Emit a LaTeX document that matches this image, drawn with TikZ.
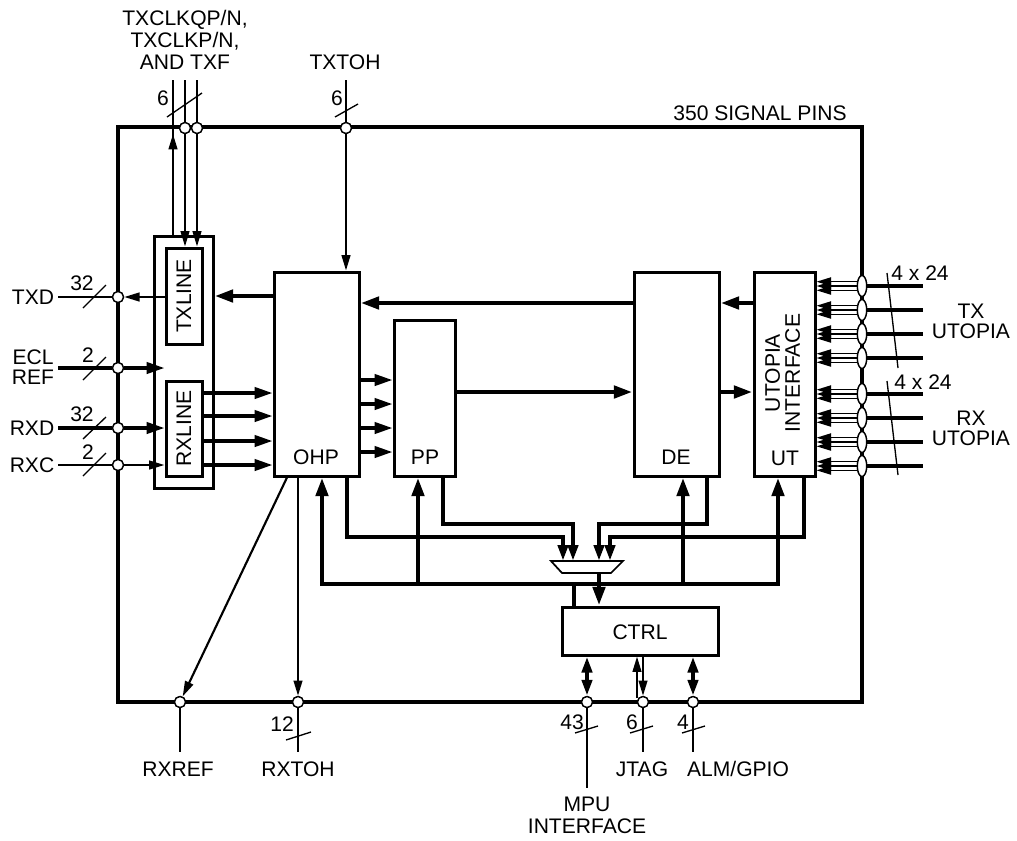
\documentclass[tikz,border=0pt]{standalone}
\usepackage{fontspec}
\setmainfont{Liberation Sans}
\usetikzlibrary{arrows.meta,shapes.geometric}
\begin{document}
\begin{tikzpicture}[x=0.75pt,y=-0.75pt,
  every node/.style={font=\fontsize{15.8}{15}\selectfont, inner sep=0pt},
  box/.style={draw, line width=2.25pt, inner sep=0pt},
  pinc/.style={circle, draw, fill=white, line width=1pt, inner sep=0pt, minimum size=8.25pt},
  upin/.style={ellipse, draw, fill=white, line width=1pt, inner sep=0pt, minimum width=7pt, minimum height=15.75pt},
  busln/.style={line width=3.4pt},
  medln/.style={line width=2.5pt},
  thinln/.style={line width=1.6pt},
  hairln/.style={line width=1pt},
  Bt/.tip={Triangle[length=14pt,width=9pt]},
  Dt/.tip={Triangle[length=12pt,width=7.5pt]},
  Mt/.tip={Triangle[length=13.5pt,width=8.5pt]},
  St/.tip={Triangle[length=11.5pt,width=6.5pt]},
  Ut/.tip={Triangle[length=11pt,width=6.5pt]},
]
\useasboundingbox (0,0) rectangle (1017,840);

% chip outline
\node[draw, line width=3pt, inner sep=0pt, minimum width=558pt, minimum height=431.25pt] (chip) at (490,414.5) {};
\node (pins) at (760,113) {350 SIGNAL PINS};

% blocks
\node[box, minimum width=44.25pt, minimum height=189pt] (txrx) at (183.5,362) {};
\node[box, minimum width=27pt, minimum height=72pt] (txline) at (184,296) {};
\node[box, minimum width=27pt, minimum height=71.25pt] (rxline) at (184,428.5) {};
\node[rotate=90] (txlt) at (184,296) {TXLINE};
\node[rotate=90] (rxlt) at (184,428.5) {RXLINE};
\node[box, minimum width=63.75pt, minimum height=153pt] (ohp) at (316.5,374) {};
\node[box, minimum width=45.75pt, minimum height=117pt] (pp) at (424.5,398) {};
\node[box, minimum width=63.75pt, minimum height=153pt] (de) at (676.5,374) {};
\node[box, minimum width=45.75pt, minimum height=153pt] (ut) at (784.5,374) {};
\node[box, minimum width=117pt, minimum height=36pt] (ctrl) at (640,631) {};
\node (ohpt) at (316,457) {OHP};
\node (ppt) at (425,457) {PP};
\node (det) at (676,457) {DE};
\node (utt) at (785,458) {UT};
\node[rotate=90, align=center] (uit) at (782.5,373) {UTOPIA\\INTERFACE};
\node (ctrlt) at (640,632) {CTRL};

% top pins
\coordinate (tca) at (173,80);
\coordinate (tcb) at (185,80);
\coordinate (tcc) at (197,80);
\coordinate (ttoh) at (346,80);
\node[pinc] (ptca) at (185,128) {};
\node[pinc] (ptcb) at (197,128) {};
\node[pinc] (ptoh) at (346,128) {};
\draw[thinln] (tca) -- (tca |- txrx.north);
\draw[thinln,-{St}] (tca |- txrx.north) -- (173,134);
\draw[thinln] (tcb) -- (ptca);
\draw[thinln,-{St}] (ptca) -- (ptca |- txline.north);
\draw[thinln] (tcc) -- (ptcb);
\draw[thinln,-{St}] (ptcb) -- (ptcb |- txline.north);
\draw[hairln] (167,117) -- (202,93);
\node (l6a) at (163,98) {6};
\node[align=center, font=\fontsize{15.8}{16.5}\selectfont] (tclkt) at (185,40) {TXCLKQP/N,\\TXCLKP/N,\\AND TXF};
\draw[thinln] (ttoh) -- (ptoh);
\draw[thinln,-{St}] (ptoh) -- (ptoh |- ohp.north);
\draw[hairln] (335,117) -- (358,104);
\node (l6b) at (337,98) {6};
\node (txtoht) at (345,62) {TXTOH};

% left pins
\node[pinc] (ptxd) at (118,297) {};
\node[pinc] (pecl) at (118,368) {};
\node[pinc] (prxd) at (118,428) {};
\node[pinc] (prxc) at (118,465) {};
\coordinate (ltxd) at (58,297);
\coordinate (lecl) at (58,368);
\coordinate (lrxd) at (58,428);
\coordinate (lrxc) at (58,465);
\draw[thinln] (ltxd) -- (ptxd);
\draw[thinln,-{St}] (txline.west |- ptxd) -- (ptxd);
\draw[medln] (lecl) -- (pecl);
\draw[medln,-{Mt}] (pecl) -- (pecl -| txline.west);
\draw[medln] (lrxd) -- (prxd);
\draw[medln,-{Mt}] (prxd) -- (prxd -| rxline.west);
\draw[thinln] (lrxc) -- (prxc);
\draw[thinln,-{St}] (prxc) -- (prxc -| rxline.west);
\draw[hairln] (83,308) -- (106,285);
\draw[hairln] (83,380) -- (106,357);
\draw[hairln] (83,439) -- (106,417);
\draw[hairln] (83,476) -- (106,453);
\node (l32a) at (82,283) {32};
\node (l2a) at (88,355) {2};
\node (l32b) at (82,414) {32};
\node (l2b) at (88,452) {2};
\node (txdt) at (33,297) {TXD};
\node[align=center] (eclt) at (33,367) {ECL\\REF};
\node (rxdt) at (32,428) {RXD};
\node (rxct) at (32,465) {RXC};

% internal data paths
\draw[busln,-{Bt}] (ohp.west |- txline) -- (txrx.east |- txline);
\foreach \yy in {393,416,441,465}
  \draw[medln,-{Mt}] (rxline.east |- 0,\yy) -- (ohp.west |- 0,\yy);
\foreach \yy in {380,404,428,452}
  \draw[medln,-{Mt}] (ohp.east |- 0,\yy) -- (pp.west |- 0,\yy);
\draw[busln,-{Bt}] (de.west |- 0,303) -- (ohp.east |- 0,303);
\draw[busln,-{Bt}] (pp.east |- 0,392) -- (de.west |- 0,392);
\draw[busln,-{Bt}] (de.east |- 0,392) -- (ut.west |- 0,392);
\draw[busln,-{Bt}] (ut.west |- 0,303) -- (de.east |- 0,303);

% UTOPIA pins
\foreach \i/\yy in {1/286,2/310,3/334,4/358,5/394,6/418,7/442,8/466}{
  \node[upin] (u\i) at (862,\yy) {};
  \draw[busln] (u\i) -- (923,\yy);
  \foreach \d in {-4.3,0,4.3}
    \draw[line width=1.1pt,-{Ut}] (857,\yy+\d) -- (ut.east |- 0,\yy+\d);
}
\draw[hairln] (887,273) -- (898,368);
\draw[hairln] (887,381) -- (898,475);
\node (l424a) at (920,273) {4 x 24};
\node (l424b) at (923,382) {4 x 24};
\node[align=center] (txut) at (971,321) {TX\\UTOPIA};
\node[align=center] (rxut) at (971,428) {RX\\UTOPIA};

% status mux
\coordinate (m1) at (563,561);
\coordinate (m2) at (573,561);
\coordinate (m3) at (599,561);
\coordinate (m4) at (610,561);
\coordinate (muxb) at (599,573);
\draw[line width=1.3pt] (551,561) -- (623,561) -- (611,573) -- (562,573) -- cycle;
\draw[busln,-{Dt}] (ohp.south -| 347,0) |- (m1 |- 0,537) -- (m1);
\draw[busln,-{Dt}] (pp.south -| 443,0) |- (m2 |- 0,524) -- (m2);
\draw[busln,-{Dt}] (de.south -| 707,0) |- (m3 |- 0,524) -- (m3);
\draw[busln,-{Dt}] (ut.south -| 804,0) |- (m4 |- 0,537) -- (m4);
\draw[busln,-{Bt}] (muxb) -- (muxb |- ctrl.north);

% control bus
\coordinate (busL) at (322,584);
\coordinate (busR) at (778,584);
\draw[busln,{Bt}-{Bt}] (busL |- ohp.south) -- (busL) -- (busR) -- (busR |- ut.south);
\draw[busln,-{Bt}] (418,584) -- (418,0 |- pp.south);
\draw[busln,-{Bt}] (683,584) -- (683,0 |- de.south);
\draw[busln] (ctrl.north -| 574,0) -- (574,584);

% bottom pins
\node[pinc] (prxref) at (180,702) {};
\node[pinc] (prxtoh) at (298,702) {};
\node[pinc] (pmpu) at (587,702) {};
\node[pinc] (pjtag) at (643,702) {};
\node[pinc] (palm) at (693,702) {};
\draw[thinln,-{St}] (ohp.south -| 287,0) -- (prxref);
\draw[thinln,-{St}] (ohp.south -| 298,0) -- (prxtoh);
\draw[thinln] (prxref) -- (prxref |- 0,752);
\draw[thinln] (prxtoh) -- (prxtoh |- 0,752);
\draw[hairln] (286,740) -- (311,732);
\node (l12) at (282,724) {12};
\node (rxreft) at (178,769) {RXREF};
\node (rxtoht) at (298,769) {RXTOH};

\draw[busln,{Dt}-{Dt}] (ctrl.south -| pmpu) -- (pmpu);
\draw[busln,{Dt}-{Dt}] (ctrl.south -| palm) -- (palm);
\draw[thinln,-{St}] (637,698) -- (ctrl.south -| 637,0);
\draw[thinln,-{St}] (ctrl.south -| pjtag) -- (pjtag);
\draw[thinln] (pmpu) -- (pmpu |- 0,788);
\draw[thinln] (pjtag) -- (pjtag |- 0,752);
\draw[thinln] (palm) -- (palm |- 0,752);
\draw[hairln] (575,733) -- (598,726);
\draw[hairln] (630,733) -- (653,726);
\draw[hairln] (682,733) -- (705,726);
\node (l43) at (572,722) {43};
\node (l6c) at (632,722) {6};
\node (l4) at (683,722) {4};
\node (jtagt) at (642,769) {JTAG};
\node (almt) at (738,769) {ALM/GPIO};
\node[align=center, font=\fontsize{15.8}{16.5}\selectfont] (mput) at (587,815) {MPU\\INTERFACE};

% redraw pins on top of chip border
\foreach \p in {ptca,ptcb,ptoh,ptxd,pecl,prxd,prxc,prxref,prxtoh,pmpu,pjtag,palm}
  \draw[line width=1pt, fill=white] (\p) circle (4.125pt);
\foreach \i/\yy in {1/286,2/310,3/334,4/358,5/394,6/418,7/442,8/466}
  \draw[line width=1pt, fill=white] (u\i) ellipse (3.5pt and 7.875pt);
\end{tikzpicture}
\end{document}
